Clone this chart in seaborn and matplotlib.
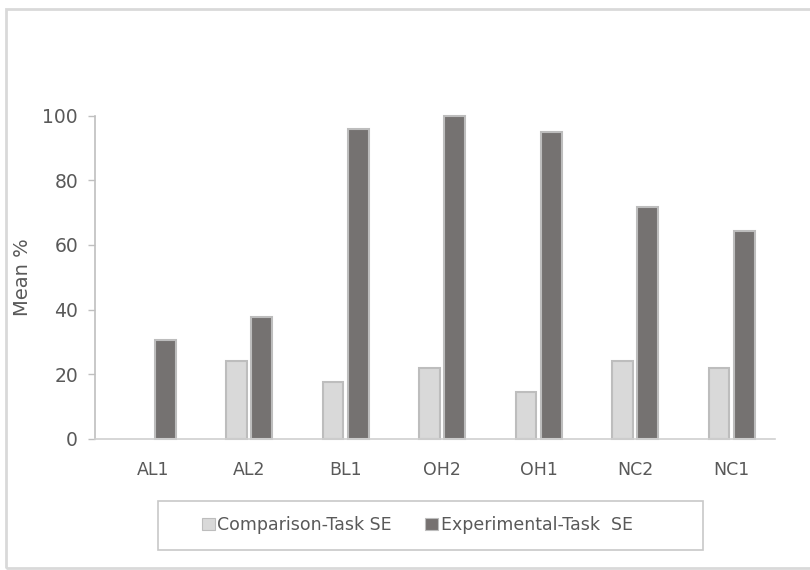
import pandas as pd
import seaborn as sns
import matplotlib.pyplot as plt
from matplotlib.patches import Rectangle, Patch

categories = ["AL1", "AL2", "BL1", "OH2", "OH1", "NC2", "NC1"]
comparison = [0, 24.2, 17.7, 21.9, 14.4, 24.1, 21.9]
experimental = [30.6, 37.8, 95.9, 100, 95.0, 71.7, 64.4]
series = ["Comparison-Task SE", "Experimental-Task  SE"]
colors = ["#d9d9d9", "#767170"]

df = pd.DataFrame({
  "cat": categories * 2,
  "val": comparison + experimental,
  "series": [series[0]] * len(categories) + [series[1]] * len(categories),
})

sns.set_theme(style="white")
plt.rcParams['font.family'] = ['DejaVu Sans']

fig = plt.figure(figsize=(8.1, 5.7), dpi=100)
ax = fig.add_axes([0.117, 0.23, 0.84, 0.567])

sns.barplot(data=df, x="cat", y="val", hue="series", order=categories,
            palette=colors, width=0.52, gap=0.18,
            edgecolor="#bdbdbd", linewidth=1.5, ax=ax, legend=False)
for p in ax.patches:
  p.set_clip_on(False)
  if p.get_height() == 0:
    p.set_linewidth(0)  # excel draws nothing for a zero bar

ax.set_xlim(-0.6, 6.45)
ax.set_ylim(0, 100)
ax.set_yticks(range(0, 101, 20))
ax.set_xlabel("")
ax.set_ylabel("Mean %", fontsize=14, color="#595959")
ax.yaxis.set_label_coords(-0.092, 0.5)
ax.tick_params(axis="y", length=5, width=1, color="#bfbfbf", labelsize=13.5,
               labelcolor="#595959", pad=7, left=True)
ax.tick_params(axis="x", length=0, labelsize=12.5, labelcolor="#595959", pad=16)

sns.despine(ax=ax, top=True, right=True)
ax.spines["left"].set_color("#bfbfbf")
ax.spines["bottom"].set_color("#d0d0d0")
ax.spines["left"].set_linewidth(1.2)
ax.spines["bottom"].set_linewidth(1.2)

handles = [Patch(facecolor=c, edgecolor="#bdbdbd", linewidth=0.8) for c in colors]
leg = ax.legend(handles, series, loc="center", bbox_to_anchor=(0.515, 0.079),
                bbox_transform=fig.transFigure, ncol=2, fontsize=12.5,
                frameon=False, handlelength=0.75, handleheight=0.75,
                handletextpad=0.15, columnspacing=1.9, labelcolor="#595959")

# legend box and outer chart border
fig.patches.append(Rectangle((158 / 810, 20 / 570), 545 / 810, 49 / 570,
                             transform=fig.transFigure, fill=False,
                             edgecolor="#c8c8c8", linewidth=1.2))
fig.patches.append(Rectangle((6 / 810, 2 / 570), 1.0, 559 / 570,
                             transform=fig.transFigure, fill=False,
                             edgecolor="#d9d9d9", linewidth=2))

fig.savefig("out.png", dpi=100)
